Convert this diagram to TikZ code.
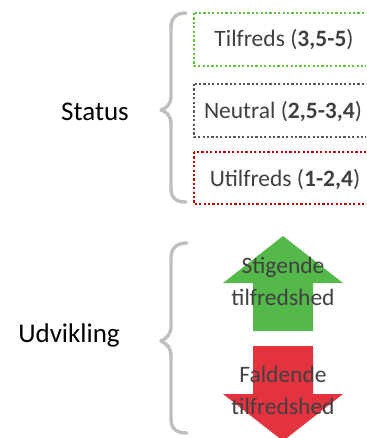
\documentclass[tikz,border=0pt]{standalone}
\usepackage{fontspec}
\setmainfont{Carlito}
\begin{document}
\begin{tikzpicture}[x=1pt,y=-1pt,
  brace/.style={draw=black!25,line width=3.4pt,line cap=round,line join=round},
  dotbox/.style={line width=2.4pt,dash pattern=on 2.2pt off 2.2pt},
  boxtext/.style={text=black!75,font=\fontsize{23.5}{28}\selectfont},
  label/.style={text=black,font=\fontsize{27}{32}\selectfont},
  arrtext/.style={text=black!75,font=\fontsize{23.5}{32}\selectfont,align=center}]
\definecolor{upgreen}{HTML}{55B84A}
\definecolor{downred}{HTML}{E2333F}
\definecolor{boxgreen}{HTML}{5DC43C}
\definecolor{boxgray}{HTML}{5A5A5A}
\definecolor{boxred}{HTML}{C00000}
\useasboundingbox (0,0) rectangle (366,438);
\begin{scope}
\clip (0,0) rectangle (366,438);
% status boxes
\draw[dotbox,draw=boxgreen] (194,13) rectangle (380,66);
\draw[dotbox,draw=boxgray] (194,84) rectangle (380,137);
\draw[dotbox,draw=boxred] (194,152) rectangle (380,204);
% arrows
\fill[upgreen] (283,236) -- (343,283) -- (313,283) -- (313,331) -- (253,331) -- (253,283) -- (223,283) -- cycle;
\fill[downred] (253,346) -- (313,346) -- (313,394) -- (343,394) -- (283,441) -- (223,394) -- (253,394) -- cycle;
\end{scope}
% braces
\draw[brace] (186,13) .. controls (176,13) and (171,18) .. (171,28) -- (171,96) .. controls (171,104) and (167,108) .. (161,110) .. controls (167,112) and (171,116) .. (171,124) -- (171,188) .. controls (171,198) and (176,202) .. (186,202);
\draw[brace] (187,243) .. controls (177,243) and (171,248) .. (171,258) -- (171,326) .. controls (171,334) and (167,338) .. (161,341) .. controls (167,344) and (171,348) .. (171,356) -- (171,419) .. controls (171,429) and (177,433) .. (187,433);
% texts
\node[boxtext] (t1) at (284,40) {Tilfreds (\textbf{3,5-5})};
\node[boxtext] (t2) at (283,112) {Neutral (\textbf{2,5-3,4})};
\node[boxtext] (t3) at (285,180) {Utilfreds (\textbf{1-2,4})};
\node[label] (status) at (95,112) {Status};
\node[label] (udv) at (69,335) {Udvikling};
\node[arrtext] (up) at (283,281) {Stigende\\tilfredshed};
\node[arrtext] (down) at (283,390) {Faldende\\tilfredshed};
\end{tikzpicture}
\end{document}
